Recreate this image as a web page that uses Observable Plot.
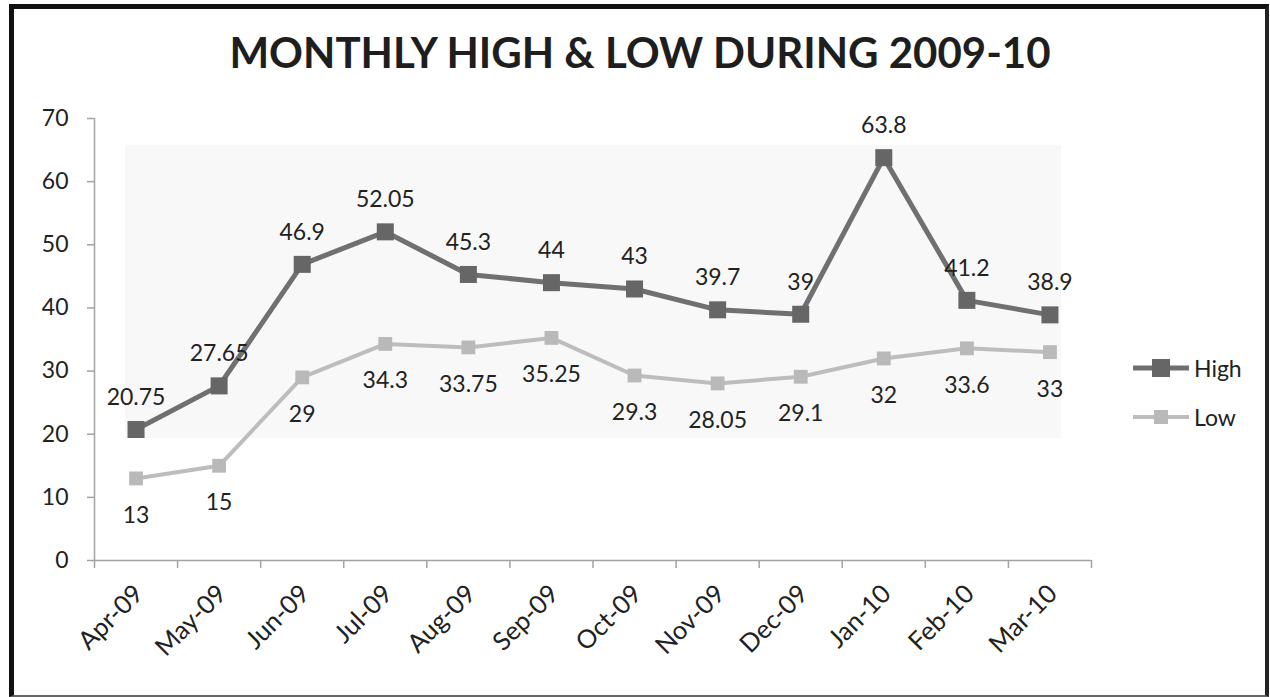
<!DOCTYPE html>
<html><head><meta charset="utf-8">
<script src="https://cdn.jsdelivr.net/npm/d3@7"></script>
<script src="https://cdn.jsdelivr.net/npm/@observablehq/plot@0.6"></script>
<style>
html,body{margin:0;padding:0;background:#fff;}
body{width:1270px;height:697px;overflow:hidden;position:relative;font-family:Lato,"Open Sans",sans-serif;}
#frame{position:absolute;left:9px;top:4px;width:1260px;height:693px;box-sizing:border-box;
  border-top:5px solid #111;border-left:5px solid #111;border-right:4px solid #222;border-bottom:2px solid #666;}
#shade{position:absolute;left:125px;top:145px;width:936px;height:293px;background:#f8f8f8;}
#title{position:absolute;left:5px;top:31px;width:1270px;text-align:center;font-weight:700;font-size:42px;line-height:42px;color:#1e1e1e;white-space:nowrap;}
#chart{position:absolute;left:0;top:0;}
#legend{position:absolute;left:1133px;top:354px;font-size:23px;color:#222;}
.item{display:flex;align-items:center;height:28px;margin-bottom:21px;}
.item svg{margin-right:5px;}
</style></head><body>
<div id="frame"></div>
<div id="shade"></div>
<div id="title">MONTHLY HIGH &amp; LOW DURING 2009-10</div>
<div id="chart"></div>
<div id="legend"></div>
<script>
const months = ["Apr-09","May-09","Jun-09","Jul-09","Aug-09","Sep-09","Oct-09","Nov-09","Dec-09","Jan-10","Feb-10","Mar-10"];
const high = [20.75,27.65,46.9,52.05,45.3,44,43,39.7,39,63.8,41.2,38.9];
const low = [13,15,29,34.3,33.75,35.25,29.3,28.05,29.1,32,33.6,33];
const yTicks = [0,10,20,30,40,50,60,70];
const seriesNames = ["High","Low"];
const seriesColors = {High:{line:"#707070", mark:"#666666"}, Low:{line:"#bdbdbd", mark:"#b9b9b9"}};

const idx = months.map((m,i)=>i);
const bounds = d3.range(months.length+1).map(i=>i-0.5);
const axisColor = "#a3a3a3";
const fs = 23;

const chart = Plot.plot({
  width:1270, height:697,
  marginLeft:94, marginRight:179, marginTop:118, marginBottom:137,
  x:{type:"linear", domain:[bounds[0], bounds[bounds.length-1]]},
  y:{domain:[yTicks[0], yTicks[yTicks.length-1]]},
  style:{fontFamily:"Lato, 'Open Sans', sans-serif", fontSize:fs+"px", color:"#222", background:"transparent", overflow:"visible"},
  marks:[
    Plot.ruleX([bounds[0]], {stroke:axisColor, strokeWidth:1.5}),
    Plot.ruleY([yTicks[0]], {stroke:axisColor, strokeWidth:1.5}),
    Plot.axisY({ticks:yTicks, tickSize:7, tickPadding:19, stroke:axisColor, strokeWidth:1.5, strokeOpacity:1, label:null, fill:"#222", fontSize:fs}),
    Plot.axisX({ticks:bounds, tickSize:8, tickFormat:()=>"", stroke:axisColor, strokeWidth:1.5, strokeOpacity:1, label:null}),
    Plot.axisX({ticks:idx, tickSize:0, tickPadding:29, tickRotate:-45, tickFormat:i=>months[i], label:null, fill:"#222", fontSize:25.5, dx:3}),
    Plot.line(low, {x:(d,i)=>i, y:d=>d, stroke:seriesColors.Low.line, strokeWidth:4}),
    Plot.dot(low, {x:(d,i)=>i, y:d=>d, symbol:"square", r:7.8, fill:seriesColors.Low.mark}),
    Plot.line(high, {x:(d,i)=>i, y:d=>d, stroke:seriesColors.High.line, strokeWidth:5}),
    Plot.dot(high, {x:(d,i)=>i, y:d=>d, symbol:"square", r:9.6, fill:seriesColors.High.mark}),
    Plot.text(high, {x:(d,i)=>i, y:d=>d, text:d=>String(d), dy:-32, fontSize:fs, fill:"#222"}),
    Plot.text(low, {x:(d,i)=>i, y:d=>d, text:d=>String(d), dy:37, fontSize:fs, fill:"#222"})
  ]
});
document.getElementById("chart").appendChild(chart);

const legend = document.getElementById("legend");
seriesNames.forEach(name => {
  const c = seriesColors[name];
  const big = name === "High";
  const s = big ? 18 : 14;
  const item = document.createElement("div");
  item.className = "item";
  item.innerHTML = `<svg width="56" height="20"><line x1="0" x2="56" y1="10" y2="10" stroke="${c.line}" stroke-width="${big?5:4}"/><rect x="${28-s/2}" y="${10-s/2}" width="${s}" height="${s}" fill="${c.mark}"/></svg><span>${name}</span>`;
  legend.appendChild(item);
});
</script>
</body></html>
